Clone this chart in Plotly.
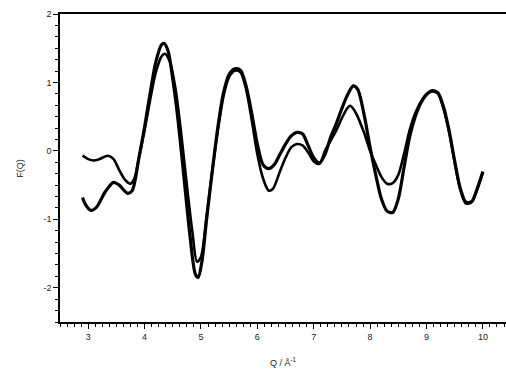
import plotly.graph_objects as go

# Structure-factor curves F(Q) vs Q
q_a = [2.9, 3.0, 3.1, 3.2, 3.35, 3.45, 3.55, 3.65, 3.75, 3.82, 3.9, 4.0, 4.1, 4.2, 4.3, 4.36,
       4.45, 4.55, 4.65, 4.75, 4.85, 4.93, 5.0, 5.1, 5.2, 5.3, 5.4, 5.5, 5.6, 5.7, 5.8, 5.9,
       6.0, 6.1, 6.2, 6.28, 6.4, 6.5, 6.6, 6.7, 6.8, 6.9, 7.0, 7.1, 7.2, 7.3, 7.4, 7.5, 7.6,
       7.65, 7.75, 7.9, 8.0, 8.1, 8.2, 8.3, 8.4, 8.5, 8.6, 8.7, 8.8, 8.9, 9.0, 9.1, 9.2, 9.3,
       9.4, 9.5, 9.6, 9.7, 9.8, 9.9, 10.0]
f_a = [-0.07, -0.12, -0.14, -0.12, -0.07, -0.12, -0.28, -0.42, -0.48, -0.4, -0.1, 0.3, 0.75,
       1.15, 1.38, 1.42, 1.3, 0.9, 0.25, -0.5, -1.2, -1.62, -1.55, -0.95, -0.3, 0.3, 0.8, 1.08,
       1.17, 1.15, 0.9, 0.45, -0.05, -0.4, -0.58, -0.55, -0.3, -0.1, 0.05, 0.1, 0.08, -0.02,
       -0.15, -0.19, 0.0, 0.15, 0.3, 0.48, 0.63, 0.66, 0.55, 0.25, 0.0, -0.2, -0.38, -0.48,
       -0.47, -0.35, -0.05, 0.3, 0.55, 0.72, 0.83, 0.87, 0.84, 0.62, 0.28, -0.17, -0.57, -0.77,
       -0.75, -0.56, -0.31]

q_b = [2.9, 2.95, 3.05, 3.15, 3.3, 3.45, 3.55, 3.7, 3.78, 3.9, 4.0, 4.1, 4.2, 4.3, 4.35, 4.42,
       4.5, 4.6, 4.7, 4.8, 4.9, 4.95, 5.02, 5.1, 5.2, 5.3, 5.4, 5.5, 5.6, 5.7, 5.8, 5.9, 6.0,
       6.1, 6.2, 6.3, 6.4, 6.5, 6.6, 6.7, 6.8, 6.9, 7.0, 7.1, 7.2, 7.3, 7.4, 7.5, 7.6, 7.7,
       7.78, 7.9, 8.0, 8.1, 8.2, 8.3, 8.4, 8.5, 8.6, 8.7, 8.8, 8.9, 9.0, 9.1, 9.2, 9.3, 9.4,
       9.5, 9.6, 9.7, 9.8, 9.9, 10.0]
f_b = [-0.68, -0.78, -0.87, -0.82, -0.6, -0.46, -0.5, -0.62, -0.58, -0.1, 0.35, 0.85, 1.3,
       1.55, 1.57, 1.45, 1.05, 0.4, -0.4, -1.2, -1.8, -1.85, -1.6, -1.0, -0.3, 0.35, 0.85,
       1.12, 1.2, 1.18, 0.95, 0.55, 0.1, -0.2, -0.26, -0.2, -0.05, 0.1, 0.22, 0.27, 0.25,
       0.08, -0.1, -0.18, -0.05, 0.2, 0.4, 0.62, 0.82, 0.95, 0.9, 0.5, 0.05, -0.35, -0.7,
       -0.88, -0.9, -0.7, -0.25, 0.2, 0.5, 0.7, 0.82, 0.88, 0.85, 0.65, 0.3, -0.15, -0.55,
       -0.75, -0.74, -0.55, -0.3]

x_ticks = [3, 4, 5, 6, 7, 8, 9, 10]
y_ticks = [-2, -1, 0, 1, 2]

font = dict(family="Liberation Sans, Arial, sans-serif", size=9, color="#222222")

fig = go.Figure()
fig.add_trace(go.Scatter(x=q_a, y=f_a, mode="lines",
                         line=dict(color="black", width=2.6, shape="spline", smoothing=0.8)))
fig.add_trace(go.Scatter(x=q_b, y=f_b, mode="lines",
                         line=dict(color="black", width=3.2, shape="spline", smoothing=0.8)))

fig.update_layout(
    width=506, height=373,
    margin=dict(l=60, r=0, t=14, b=51),
    paper_bgcolor="white", plot_bgcolor="white",
    showlegend=False,
    font=font,
    xaxis=dict(range=[2.5, 10.41], tickvals=x_ticks, ticktext=[str(v) for v in x_ticks],
               showgrid=False, zeroline=False, showline=True, linecolor="black",
               linewidth=1.5, mirror=True, ticks="outside", ticklen=5, tickwidth=1.3,
               tickcolor="black", tickfont=font,
               minor=dict(dtick=0.125, tick0=3, ticks="outside", ticklen=3,
                          tickwidth=1, tickcolor="black")),
    yaxis=dict(range=[-2.5, 2.0], tickvals=y_ticks, ticktext=[str(v) for v in y_ticks],
               showgrid=False, zeroline=False, showline=True, linecolor="black",
               linewidth=1.5, ticks="outside", ticklen=5, tickwidth=1.3,
               tickcolor="black", tickfont=font,
               minor=dict(dtick=1 / 6, tick0=0, ticks="outside", ticklen=3,
                          tickwidth=1, tickcolor="black")),
    annotations=[
        dict(text="F(Q)", xref="paper", yref="paper", x=-0.09, y=0.5,
             textangle=-90, showarrow=False, font=font, xanchor="center", yanchor="middle"),
        dict(text="Q / Å<sup>-1</sup>", xref="paper", yref="paper", x=0.5, y=-0.13,
             showarrow=False, font=font, xanchor="center", yanchor="middle"),
    ],
)

fig.write_html("out.html")
